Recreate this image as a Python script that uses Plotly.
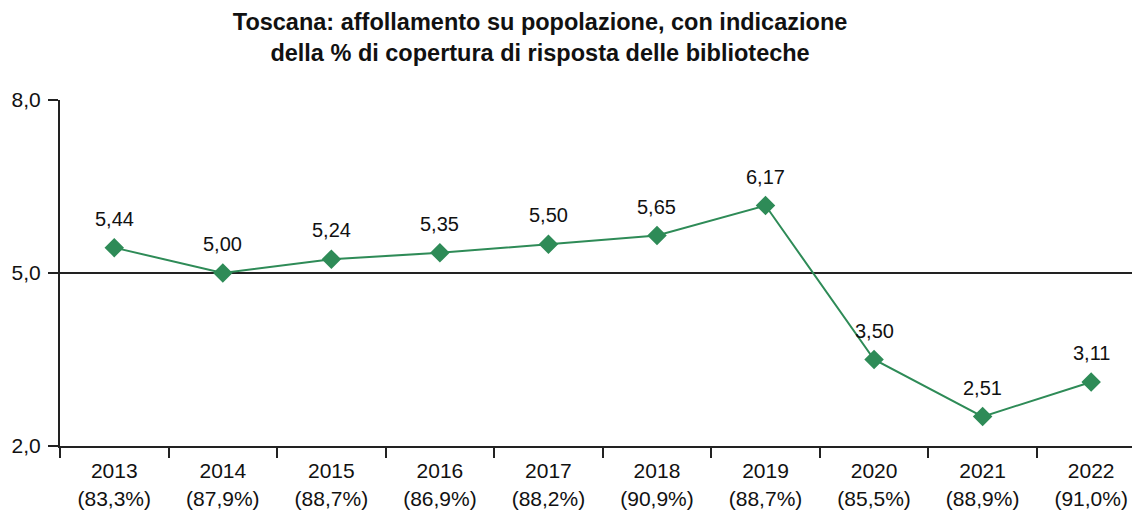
import plotly.graph_objects as go

years = ["2013", "2014", "2015", "2016", "2017", "2018", "2019", "2020", "2021", "2022"]
coverage = ["83,3%", "87,9%", "88,7%", "86,9%", "88,2%", "90,9%", "88,7%", "85,5%", "88,9%", "91,0%"]
values = [5.44, 5.00, 5.24, 5.35, 5.50, 5.65, 6.17, 3.50, 2.51, 3.11]
y_ticks = [2.0, 5.0, 8.0]

categories = [f"{y}<br>({c})" for y, c in zip(years, coverage)]
green = "#2e8b57"
font_fam = "Liberation Sans, Arial"
txt_col = "#111111"

fig = go.Figure()
fig.add_trace(go.Scatter(
    x=categories, y=values, mode="lines+markers",
    line=dict(color=green, width=2),
    marker=dict(symbol="diamond", size=15, color=green),
    cliponaxis=False, showlegend=False, hoverinfo="skip",
))

for c, v in zip(categories, values):
    fig.add_annotation(
        x=c, y=v, text=f"{v:.2f}".replace(".", ","), showarrow=False,
        yshift=29, font=dict(family=font_fam, size=20, color=txt_col),
    )

fig.update_layout(
    width=1132, height=505,
    paper_bgcolor="white", plot_bgcolor="white",
    separators=",.",
    margin=dict(l=52, r=0, t=92, b=67),
    title=dict(
        text="Toscana: affollamento su popolazione, con indicazione<br>della % di copertura di risposta delle biblioteche",
        x=0.47, xanchor="center", y=0.9555, yanchor="middle",
        font=dict(family=font_fam, size=23.5, color="#111111", weight="bold"),
    ),
    xaxis=dict(
        type="category", range=[-0.5, 9.45],
        showline=True, linecolor="#222222", linewidth=2,
        ticks="outside", tickson="boundaries", ticklen=10, tickwidth=2, tickcolor="#222222",
        ticklabelstandoff=5,
        showgrid=False,
        tickfont=dict(family=font_fam, size=21, color=txt_col),
    ),
    yaxis=dict(
        range=[2.0, 8.0], tickvals=y_ticks, tickformat=".1f",
        showline=True, linecolor="#222222", linewidth=2,
        ticks="outside", ticklen=10, tickwidth=2, tickcolor="#222222",
        ticklabelstandoff=3,
        showgrid=True, gridcolor="#222222", gridwidth=2,
        zeroline=False,
        tickfont=dict(family=font_fam, size=21, color=txt_col),
    ),
)

fig.write_html("out.html")
